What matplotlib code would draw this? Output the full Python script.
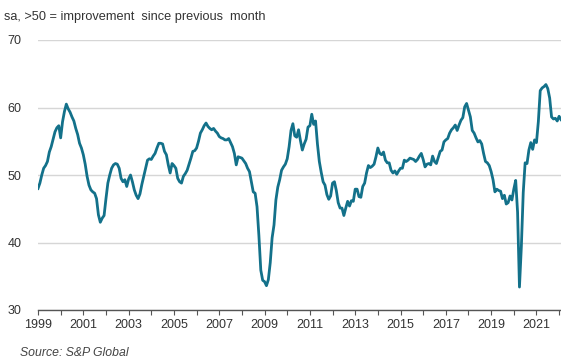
import matplotlib
matplotlib.use('Agg')
import matplotlib.pyplot as plt
import numpy as np
from matplotlib.ticker import MultipleLocator

plt.rcParams['font.family'] = ['Liberation Sans', 'DejaVu Sans']

# monthly index values, Jan 1999 .. Feb 2022
v1999 = [48.0, 48.8, 50.0, 51.0, 51.4, 52.0, 53.4, 54.2, 55.3, 56.4, 57.0, 57.3]
v2000 = [55.5, 57.9, 59.4, 60.5, 59.8, 59.3, 58.6, 58.0, 56.9, 56.0, 54.7, 54.0]
v2001 = [53.0, 51.6, 49.8, 48.5, 47.8, 47.5, 47.3, 46.5, 44.1, 43.0, 43.6, 44.0]
v2002 = [46.5, 48.8, 50.0, 51.0, 51.5, 51.7, 51.6, 51.0, 49.5, 49.0, 49.3, 48.3]
v2003 = [49.4, 50.0, 49.0, 47.8, 47.0, 46.5, 47.2, 48.6, 49.8, 51.0, 52.2, 52.4]
v2004 = [52.3, 52.8, 53.2, 54.0, 54.7, 54.7, 54.6, 53.5, 53.0, 51.5, 50.3, 51.7]
v2005 = [51.4, 51.0, 49.5, 49.0, 48.8, 49.8, 50.2, 50.7, 51.6, 52.5, 53.5, 53.6]
v2006 = [54.0, 55.0, 56.2, 56.7, 57.3, 57.7, 57.2, 56.9, 56.7, 56.9, 56.5, 56.2]
v2007 = [55.7, 55.5, 55.4, 55.2, 55.2, 55.4, 54.8, 54.2, 53.2, 51.5, 52.7, 52.6]
v2008 = [52.5, 52.1, 51.7, 51.0, 50.5, 49.0, 47.5, 47.3, 45.3, 41.0, 35.9, 34.4]
v2009 = [34.2, 33.6, 34.5, 37.0, 40.7, 42.6, 46.3, 48.2, 49.3, 50.7, 51.2, 51.6]
v2010 = [52.4, 54.2, 56.6, 57.6, 55.8, 55.6, 56.7, 55.1, 53.7, 54.6, 55.3, 57.1]
v2011 = [57.3, 59.0, 57.5, 58.0, 54.6, 52.0, 50.4, 49.0, 48.5, 47.1, 46.4, 46.9]
v2012 = [48.8, 49.0, 47.7, 45.9, 45.1, 45.1, 44.0, 45.1, 46.1, 45.4, 46.2, 46.1]
v2013 = [47.9, 47.9, 46.8, 46.7, 48.3, 48.8, 50.3, 51.4, 51.1, 51.3, 51.6, 52.7]
v2014 = [54.0, 53.2, 53.0, 53.4, 52.2, 51.8, 51.8, 50.7, 50.3, 50.6, 50.1, 50.6]
v2015 = [51.0, 51.0, 52.2, 52.0, 52.2, 52.5, 52.4, 52.3, 52.0, 52.3, 52.8, 53.2]
v2016 = [52.3, 51.2, 51.6, 51.7, 51.5, 52.8, 52.0, 51.7, 52.6, 53.5, 53.7, 54.9]
v2017 = [55.2, 55.4, 56.2, 56.7, 57.0, 57.4, 56.6, 57.4, 58.1, 58.5, 60.1, 60.6]
v2018 = [59.6, 58.6, 56.6, 56.2, 55.5, 54.9, 55.1, 54.6, 53.2, 52.0, 51.8, 51.4]
v2019 = [50.5, 49.3, 47.5, 47.9, 47.7, 47.6, 46.5, 47.0, 45.7, 45.9, 46.9, 46.3]
v2020 = [47.9, 49.2, 44.5, 33.4, 39.4, 47.4, 51.8, 51.7, 53.7, 54.8, 53.8, 55.2]
v2021 = [54.8, 57.9, 62.5, 62.9, 63.1, 63.4, 62.8, 61.4, 58.6, 58.3, 58.4, 58.0]
v2022 = [58.7, 58.2]

values = (v1999 + v2000 + v2001 + v2002 + v2003 + v2004 + v2005 + v2006 + v2007
          + v2008 + v2009 + v2010 + v2011 + v2012 + v2013 + v2014 + v2015
          + v2016 + v2017 + v2018 + v2019 + v2020 + v2021 + v2022)
dates = 1999 + np.arange(len(values)) / 12.0

year_ticks = list(range(1999, 2023, 2))

LINE = '#13718a'
GRID = '#d6d6d6'
TXT = '#333333'

fig = plt.figure(figsize=(5.61, 3.58), dpi=100)
ax = fig.add_axes([38 / 561, 48 / 358, 1 - 38 / 561, 270 / 358])

ax.plot(dates, values, color=LINE, lw=2.0, solid_joinstyle='round')

ax.set_xlim(1999, dates[-1])
ax.set_ylim(30, 70)
ax.set_yticks([30, 40, 50, 60, 70])
ax.set_xticks(year_ticks)
ax.set_xticklabels([str(y) for y in year_ticks])
ax.xaxis.set_minor_locator(MultipleLocator(1))

ax.grid(axis='y', color=GRID, lw=1.0)
ax.set_axisbelow(True)
for s in ['top', 'right', 'left']:
    ax.spines[s].set_visible(False)
ax.spines['bottom'].set_color('#555555')
ax.spines['bottom'].set_linewidth(1.0)

ax.tick_params(axis='y', length=0, pad=12, labelsize=9, labelcolor=TXT)
ax.tick_params(axis='x', which='both', direction='out', length=3.5, width=0.8,
               color='#555555', pad=3, labelsize=9, labelcolor=TXT)

fig.text(4 / 561, 1 - 17 / 358, 'sa, >50 = improvement  since previous  month',
         ha='left', va='center', fontsize=9.2, color=TXT)
fig.text(20 / 561, 1 - 353 / 358, 'Source: S&P Global', ha='left', va='center',
         fontsize=8.8, fontstyle='italic', color='#444444')

fig.savefig('out.png', dpi=100)
